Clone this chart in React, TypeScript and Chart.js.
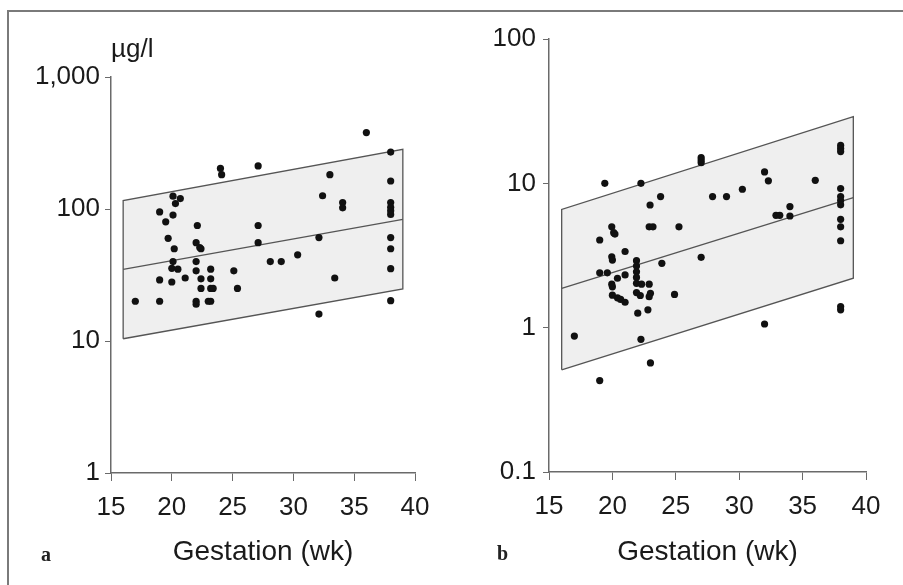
import React, { useEffect, useRef } from "react";
import { Chart, registerables } from "chart.js";

Chart.register(...registerables);

// ---------- Data ----------
const xTicks = [15, 20, 25, 30, 35, 40];

// Panel a
const weeksA = [17, 19, 19.5, 19, 19, 19.7, 20.1, 20.1, 20.3, 20.7, 20.2, 20.1, 20, 20.5, 20, 21.1, 22.1, 22, 22.3, 22.4, 22, 22, 22.4, 22.4, 22, 22, 23.2, 23.2, 23.2, 23.4, 23, 23.2, 24, 24.1, 25.1, 25.4, 27.1, 27.1, 27.1, 28.1, 29, 30.35, 32.1, 32.4, 33, 33.4, 32.1, 34.05, 34.05, 36, 38, 38, 38, 38, 38, 38, 38, 38, 38, 38];
const valuesA = [20, 95, 80, 29, 20, 60, 125, 90, 110, 120, 50, 40, 35.5, 35, 28, 30, 75, 55.6, 51, 50, 40, 34, 29.6, 25, 20, 19, 35, 29.6, 25, 25, 20, 20, 203, 182, 34, 25, 212, 75, 55.6, 40, 40, 45, 60.7, 126, 182, 30, 16, 112, 102, 379, 270, 163, 112, 103, 97, 91, 60.7, 50, 35.3, 20.2];
const bandWeeksA = [16, 39];
const bandUpperA = [116, 283];
const bandMidA = [34.9, 83.5];
const bandLowerA = [10.4, 24.8];
const yTicksA = [1, 10, 100, 1000];
const yTickLabelsA = ["1", "10", "100", "1,000"];

// Panel b
const weeksB = [17, 19, 19.4, 19, 19, 19.6, 19.95, 20.1, 20.2, 19.95, 20, 21, 19.95, 20, 20.4, 21, 20, 20.4, 20.65, 21, 21.9, 21.9, 21.9, 21.9, 21.9, 22.3, 21.9, 22.2, 22.9, 23, 22.9, 22, 22.8, 22.25, 23, 22.25, 22.97, 23.8, 22.9, 23.2, 23.9, 24.9, 25.25, 27, 27, 27, 27, 27.9, 29, 30.25, 32, 32.3, 32, 32.9, 33.2, 34, 34, 36, 38, 38, 38, 38, 38, 38, 38, 38, 38, 38, 38, 38];
const valuesB = [0.875, 0.43, 10, 4.05, 2.4, 2.4, 5.0, 4.55, 4.45, 3.1, 2.94, 3.37, 2.0, 1.92, 2.2, 2.32, 1.68, 1.61, 1.57, 1.5, 2.91, 2.67, 2.44, 2.23, 2.03, 2.0, 1.75, 1.67, 2.0, 1.73, 1.64, 1.26, 1.33, 0.83, 0.57, 10, 7.08, 8.1, 5.0, 5.0, 2.79, 1.7, 5.0, 15.1, 14.5, 13.9, 3.07, 8.1, 8.1, 9.1, 12.0, 10.4, 1.06, 6.0, 6.0, 5.94, 6.9, 10.5, 18.3, 17.4, 16.6, 9.2, 8.1, 7.6, 7.1, 5.63, 5.0, 4.0, 1.4, 1.33];
const bandWeeksB = [16, 39];
const bandUpperB = [6.6, 29];
const bandMidB = [1.87, 7.96];
const bandLowerB = [0.51, 2.2];
const yTicksB = [0.1, 1, 10, 100];
const yTickLabelsB = ["0.1", "1", "10", "100"];

const FONT = "'Liberation Sans', Arial, Helvetica, sans-serif";
const AXIS = "#6a6a6a";
const LINE = "#555555";
const FILLC = "#efefef";

type PanelProps = {
  weeks: number[];
  values: number[];
  bandWeeks: number[];
  upper: number[];
  mid: number[];
  lower: number[];
  yTicks: number[];
  yLabels: string[];
  width: number;
  height: number;
  left: number;
  top: number;
  yAxisWidth: number;
  padTop: number;
  padRight: number;
  xAxisHeight: number;
  yPad: number;
};

function Panel(p: PanelProps) {
  const ref = useRef<HTMLCanvasElement | null>(null);
  useEffect(() => {
    if (!ref.current) return;
    const pts = p.weeks.map((w, i) => ({ x: w, y: p.values[i] }));
    const line = (ys: number[]) => p.bandWeeks.map((w, i) => ({ x: w, y: ys[i] }));
    const outline = [
      { x: p.bandWeeks[0], y: p.lower[0] },
      { x: p.bandWeeks[0], y: p.upper[0] },
      { x: p.bandWeeks[1], y: p.upper[1] },
      { x: p.bandWeeks[1], y: p.lower[1] },
      { x: p.bandWeeks[0], y: p.lower[0] },
    ];
    const chart = new Chart(ref.current, {
      type: "scatter",
      data: {
        datasets: [
          {
            data: pts,
            pointRadius: 3.6,
            pointBackgroundColor: "#111",
            pointBorderWidth: 0,
            showLine: false,
          },
          {
            data: line(p.upper),
            showLine: true,
            borderWidth: 0,
            borderColor: "rgba(0,0,0,0)",
            pointRadius: 0,
            fill: "+1",
            backgroundColor: FILLC,
          },
          {
            data: line(p.lower),
            showLine: true,
            borderWidth: 0,
            borderColor: "rgba(0,0,0,0)",
            pointRadius: 0,
            fill: false,
          },
          {
            data: line(p.mid),
            showLine: true,
            borderWidth: 1.3,
            borderColor: LINE,
            pointRadius: 0,
            fill: false,
          },
          {
            data: outline,
            showLine: true,
            borderWidth: 1.3,
            borderColor: LINE,
            pointRadius: 0,
            fill: false,
          },
        ] as any,
      },
      options: {
        animation: false,
        responsive: false,
        maintainAspectRatio: false,
        devicePixelRatio: 1,
        layout: { padding: { top: p.padTop, right: p.padRight, left: 0, bottom: 0 } },
        plugins: {
          legend: { display: false },
          tooltip: { enabled: false },
          filler: { drawTime: "beforeDatasetsDraw" },
        } as any,
        scales: {
          x: {
            type: "linear",
            min: 15,
            max: 40,
            afterBuildTicks: (s: any) => {
              s.ticks = xTicks.map((v) => ({ value: v }));
            },
            afterFit: (s: any) => {
              s.height = p.xAxisHeight;
            },
            ticks: {
              color: "#1a1a1a",
              font: { family: FONT, size: 26 },
              padding: 11,
              maxRotation: 0,
              callback: (v: any) => String(v),
            },
            grid: { drawOnChartArea: false, drawTicks: true, tickLength: 8, color: AXIS, lineWidth: 1 },
            border: { color: AXIS, width: 1.5 },
            title: {
              display: true,
              text: "Gestation (wk)",
              color: "#1a1a1a",
              font: { family: FONT, size: 28 },
              padding: { top: 0, bottom: 0 },
            },
          },
          y: {
            type: "logarithmic",
            min: p.yTicks[0],
            max: p.yTicks[p.yTicks.length - 1],
            afterBuildTicks: (s: any) => {
              s.ticks = p.yTicks.map((v) => ({ value: v }));
            },
            afterFit: (s: any) => {
              s.width = p.yAxisWidth;
            },
            ticks: {
              color: "#1a1a1a",
              font: { family: FONT, size: 26 },
              padding: p.yPad,
              callback: (v: any) => {
                const i = p.yTicks.findIndex((t) => Math.abs(t - v) < 1e-9 * Math.max(1, t));
                return i >= 0 ? p.yLabels[i] : "";
              },
            },
            grid: { drawOnChartArea: false, drawTicks: true, tickLength: 6, color: AXIS, lineWidth: 1 },
            border: { color: AXIS, width: 1.5 },
          },
        },
      } as any,
    });
    return () => chart.destroy();
  }, []);
  return (
    <canvas
      ref={ref}
      width={p.width}
      height={p.height}
      style={{ position: "absolute", left: p.left, top: p.top, width: p.width, height: p.height }}
    />
  );
}

export default function App() {
  return (
    <div
      style={{
        position: "absolute",
        left: 0,
        top: 0,
        width: 903,
        height: 585,
        background: "#fff",
        overflow: "hidden",
      }}
    >
      <div
        style={{
          position: "absolute",
          left: 7,
          top: 10,
          width: 920,
          height: 600,
          borderTop: "2px solid #7a7a7a",
          borderLeft: "2px solid #7a7a7a",
        }}
      />
      <Panel
        weeks={weeksA}
        values={valuesA}
        bandWeeks={bandWeeksA}
        upper={bandUpperA}
        mid={bandMidA}
        lower={bandLowerA}
        yTicks={yTicksA}
        yLabels={yTickLabelsA}
        left={15}
        top={20}
        width={430}
        height={549}
        yAxisWidth={96}
        padTop={57}
        padRight={30}
        xAxisHeight={96}
        yPad={5}
      />
      <Panel
        weeks={weeksB}
        values={valuesB}
        bandWeeks={bandWeeksB}
        upper={bandUpperB}
        mid={bandMidB}
        lower={bandLowerB}
        yTicks={yTicksB}
        yLabels={yTickLabelsB}
        left={455}
        top={5}
        width={440}
        height={564}
        yAxisWidth={94}
        padTop={34}
        padRight={29}
        xAxisHeight={97}
        yPad={7}
      />
      <div
        style={{
          position: "absolute",
          left: 111,
          top: 35,
          font: `26px ${FONT}`,
          lineHeight: "26px",
          color: "#1a1a1a",
          whiteSpace: "nowrap",
        }}
      >
        µg/l
      </div>
      <div
        style={{
          position: "absolute",
          left: 41,
          top: 544,
          font: `bold 20px 'Liberation Serif', 'Times New Roman', serif`,
          lineHeight: "20px",
          color: "#222",
        }}
      >
        a
      </div>
      <div
        style={{
          position: "absolute",
          left: 497,
          top: 543,
          font: `bold 20px 'Liberation Serif', 'Times New Roman', serif`,
          lineHeight: "20px",
          color: "#222",
        }}
      >
        b
      </div>
    </div>
  );
}
